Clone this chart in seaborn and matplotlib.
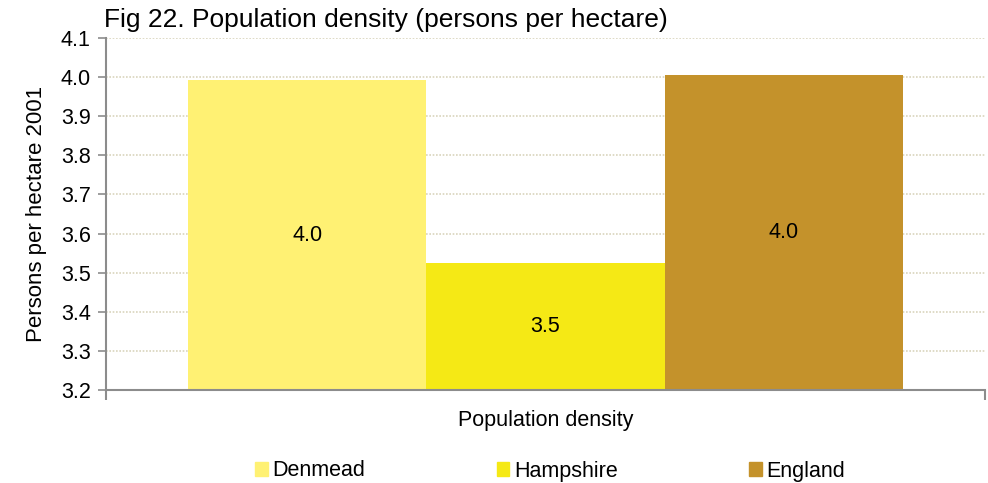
import matplotlib
matplotlib.use("Agg")
import matplotlib.pyplot as plt
import seaborn as sns
import pandas as pd

# Chart data
category = ["Population density"]
areas = ["Denmead", "Hampshire", "England"]
density = [3.992, 3.525, 4.005]
bar_colors = ["#FFF173", "#F5E915", "#C4922B"]
y_ticks = [3.2, 3.3, 3.4, 3.5, 3.6, 3.7, 3.8, 3.9, 4.0, 4.1]

sns.set_theme(style="white")
plt.rcParams["font.family"] = ["Liberation Sans", "DejaVu Sans"]
plt.rcParams["text.color"] = "black"
plt.rcParams["axes.labelcolor"] = "black"
plt.rcParams["xtick.color"] = "black"
plt.rcParams["ytick.color"] = "black"
plt.rcParams["xtick.bottom"] = True
plt.rcParams["ytick.left"] = True

FS = 15.5

df = pd.DataFrame({"category": category * len(areas), "area": areas, "value": density})

fig = plt.figure(figsize=(9.88, 4.83), dpi=100)
ax = fig.add_axes([106 / 988, 1 - 390 / 483, (985 - 106) / 988, (390 - 38) / 483])

ax.yaxis.grid(True, color="#D9D4BC", linestyle=(0, (1, 1)), linewidth=1.2)
ax.set_axisbelow(True)

sns.barplot(data=df, x="category", y="value", hue="area", hue_order=areas,
            palette=bar_colors, width=0.813, gap=0, dodge=True, saturation=1,
            linewidth=0, legend=False, ax=ax)

ax.set_ylim(3.2, 4.1)
ax.set_xlim(-0.5, 0.5)
ax.set_yticks(y_ticks)
ax.set_yticklabels([f"{t:.1f}" for t in y_ticks], fontsize=FS)
ax.set_xticks([-0.5, 0.5])
ax.set_xticklabels(["", ""])
ax.tick_params(axis="x", direction="out", length=7, width=1.5, color="#8C8C8C")
ax.tick_params(axis="y", direction="out", length=6, width=1.2, color="#8C8C8C", pad=5)

for side in ("top", "right"):
    ax.spines[side].set_visible(False)
for side in ("left", "bottom"):
    ax.spines[side].set_color("#8C8C8C")
    ax.spines[side].set_linewidth(1.5)

# Value labels centred in each bar
for patch, val in zip(ax.patches, density):
    cx = patch.get_x() + patch.get_width() / 2
    cy = (3.2 + val) / 2
    ax.text(cx, cy, f"{val:.1f}", ha="center", va="center", fontsize=FS, color="black")

ax.set_xlabel("Population density", fontsize=FS, labelpad=4)
ax.set_ylabel("Persons per hectare 2001", fontsize=16, labelpad=10)

fig.text(104 / 988, 1 - 20 / 483, "Fig 22. Population density (persons per hectare)",
         fontsize=19, ha="left", va="center")

# Legend
handles = [plt.Rectangle((0, 0), 1, 1, color=c) for c in bar_colors]
fig.legend(handles, areas, loc="center", bbox_to_anchor=(550 / 988, 1 - 471 / 483), ncol=3,
           frameon=False, fontsize=FS, handlelength=0.6, handleheight=0.6,
           handletextpad=0.2, columnspacing=6.1, borderpad=0)

fig.savefig("out.png", dpi=100)
